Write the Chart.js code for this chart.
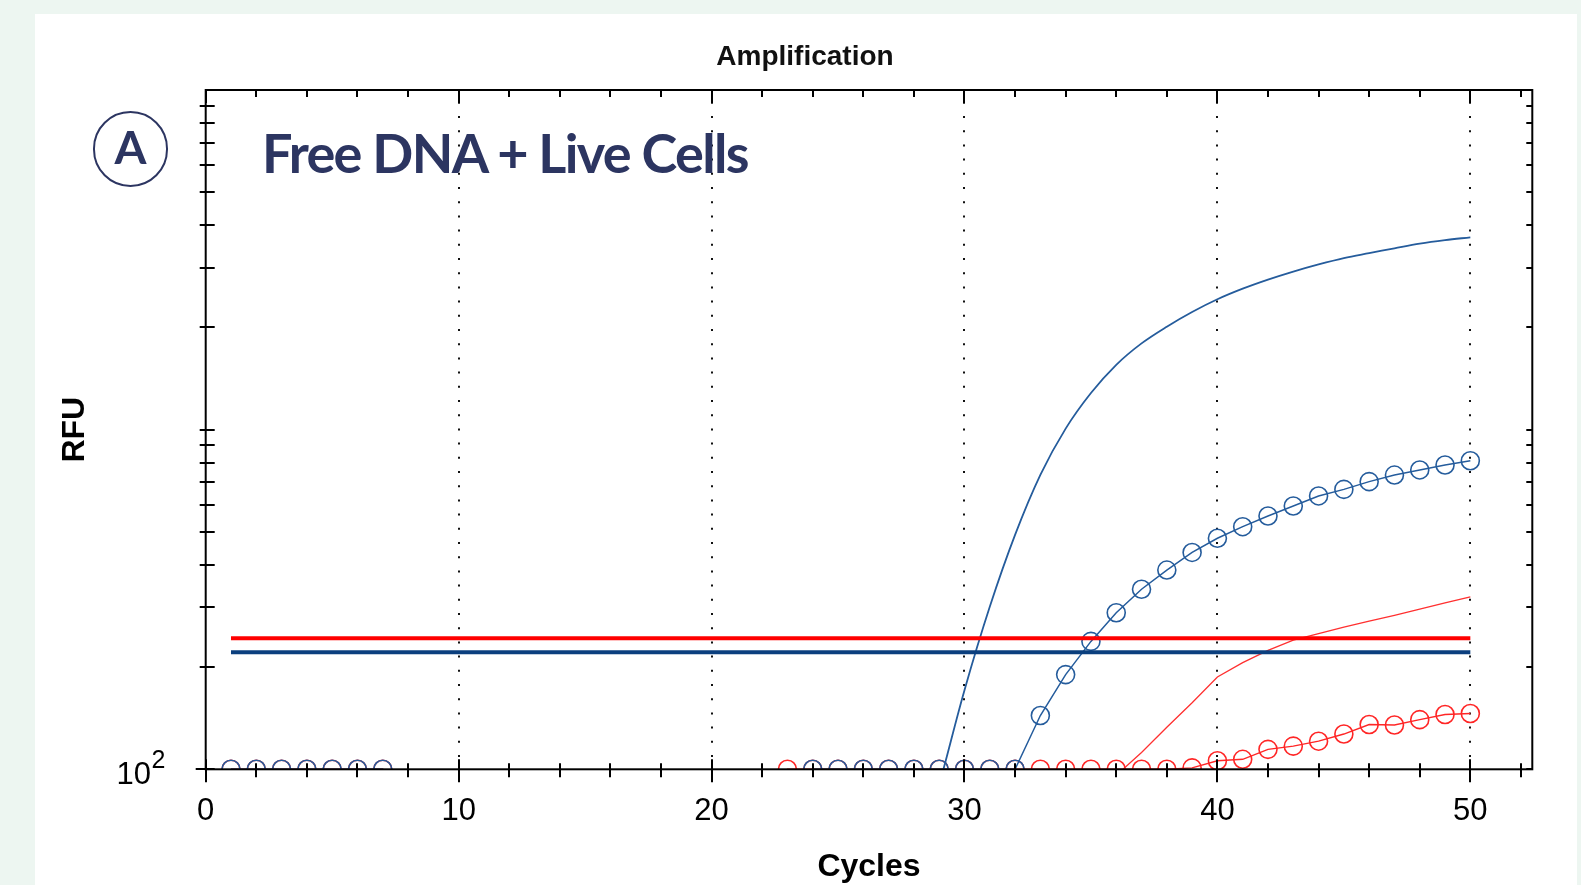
<!DOCTYPE html>
<html>
<head>
<meta charset="utf-8">
<title>Amplification</title>
<script src="https://cdn.jsdelivr.net/npm/chart.js@4"></script>
<style>
  html, body { margin: 0; padding: 0; }
  body { width: 1581px; height: 885px; background: #edf6f1; position: relative; overflow: hidden; }
  #panel { position: absolute; left: 35px; top: 14px; width: 1542px; height: 900px; background: #fff; }
  #myChart { position: absolute; left: 0; top: 0; }
  .txt { position: absolute; white-space: nowrap; }
  #title { left: 605px; width: 400px; top: 41.5px; text-align: center; font: bold 28px/28px 'Liberation Sans', Arial, sans-serif; color: #111; }
  #badge { left: 92.8px; top: 111px; width: 75.6px; height: 75.6px; box-sizing: border-box; border: 2px solid #2c3561; border-radius: 50%; }
  #badgeLetter { left: 92.8px; width: 75.6px; top: 123.7px; text-align: center; font: bold 46px/46px Lato, sans-serif; color: #2c3561; }
  #label { left: 262px; top: 125.6px; font: bold 54px/54px Lato, sans-serif; letter-spacing: -1.65px; color: #2c3561; }
</style>
</head>
<body>
<div id="panel"></div>
<canvas id="myChart" width="1581" height="885"></canvas>
<div class="txt" id="title">Amplification</div>
<div class="txt" id="badge"></div>
<div class="txt" id="badgeLetter">A</div>
<div class="txt" id="label">Free DNA + Live Cells</div>

<script>
// cycle numbers (x)
const cycles = [
  1, 2, 3, 4, 5, 6, 7, 8, 9, 10,
  11, 12, 13, 14, 15, 16, 17, 18, 19, 20,
  21, 22, 23, 24, 25, 26, 27, 28, 29, 30,
  31, 32, 33, 34, 35, 36, 37, 38, 39, 40,
  41, 42, 43, 44, 45, 46, 47, 48, 49, 50
];

// RFU values (values under 100 sit below the axis and are hidden)
const blueLine = [
  50, 50, 50, 50, 50, 50, 50, 50, 50, 50,
  50, 50, 50, 50, 50, 50, 50, 50, 50, 50,
  50, 50, 50, 50, 50, 50, 50, 50, 90, 171,
  301, 490, 736, 1007, 1282, 1552, 1795, 2010, 2220, 2420,
  2600, 2765, 2920, 3065, 3200, 3310, 3420, 3530, 3615, 3683
];
const blueCircles = [
  100, 100, 100, 100, 100, 100, 100, 80, 80, 80,
  80, 80, 80, 80, 80, 80, 80, 80, 80, 80,
  80, 80, 80, 100, 100, 100, 100, 100, 100, 100,
  100, 100, 144, 190, 238, 289, 339, 386, 435, 479,
  518, 557, 596, 638, 667, 703, 735, 761, 787, 810
];
const redLine = [
  90, 90, 90, 90, 90, 90, 90, 90, 90, 90,
  90, 90, 90, 90, 90, 90, 90, 90, 90, 90,
  90, 90, 90, 90, 90, 90, 90, 90, 90, 90,
  90, 90, 90, 90, 90, 96, 112, 133, 157, 187,
  206, 224, 240, 251, 262, 273, 284, 296, 309, 322
];
const redCircles = [
  100, 100, 100, 100, 100, 100, 100, 80, 80, 80,
  80, 80, 80, 80, 80, 80, 80, 80, 80, 80,
  80, 80, 100, 100, 100, 100, 100, 100, 100, 100,
  100, 100, 100, 100, 100, 100, 100, 100, 101, 106,
  107, 114.5, 117, 121, 127, 135.5, 135, 140, 145, 146
];

// threshold lines
const thresholdCycles = [1, 50];
const redThreshold = 243;
const blueThreshold = 221;

// axis ticks
const xLabelTicks = [0, 10, 20, 30, 40, 50];
const xTickMarks = [0, 2, 4, 6, 8, 10, 12, 14, 16, 18, 20, 22, 24, 26, 28, 30,
  32, 34, 36, 38, 40, 42, 44, 46, 48, 50, 52];
const yTickMarks = [100, 200, 300, 400, 500, 600, 700, 800, 900,
  1000, 2000, 3000, 4000, 5000, 6000, 7000, 8000, 9000];
const yLabelValue = 100;

const FONT = "'Liberation Sans', Arial, sans-serif";

function toPoints(values) {
  return cycles.map((c, i) => ({ x: c, y: values[i] }));
}

// frame, tick marks on all four sides and the 10^2 label
const frameTicks = {
  id: 'frameTicks',
  afterDraw(chart) {
    const { ctx, chartArea: a, scales: { x, y } } = chart;
    ctx.save();
    ctx.strokeStyle = '#000';
    ctx.lineWidth = 2;
    ctx.strokeRect(a.left, a.top, a.right - a.left, a.bottom - a.top);

    ctx.beginPath();
    xTickMarks.forEach(v => {
      const px = Math.round(x.getPixelForValue(v));
      const major = xLabelTicks.includes(v);
      ctx.moveTo(px, a.bottom - (major ? 10 : 6));
      ctx.lineTo(px, a.bottom + (major ? 13 : 8));
      ctx.moveTo(px, a.top);
      ctx.lineTo(px, a.top + (major ? 13 : 7));
    });
    yTickMarks.forEach(v => {
      const py = Math.round(y.getPixelForValue(v));
      ctx.moveTo(a.left - (v === yLabelValue ? 10 : 6), py);
      ctx.lineTo(a.left + 9, py);
      ctx.moveTo(a.right - 6, py);
      ctx.lineTo(a.right, py);
    });
    ctx.stroke();

    // 10^2
    const py = y.getPixelForValue(yLabelValue);
    ctx.fillStyle = '#000';
    ctx.textBaseline = 'alphabetic';
    ctx.font = '31px ' + FONT;
    ctx.textAlign = 'right';
    ctx.fillText('10', a.left - 54.7, py + 15);
    ctx.font = '25px ' + FONT;
    ctx.textAlign = 'left';
    ctx.fillText(String(Math.log10(yLabelValue)), a.left - 54.2, py - 1);
    ctx.restore();
  }
};

const config = {
  type: 'line',
  data: {
    datasets: [
      {
        label: 'Threshold red',
        data: thresholdCycles.map(c => ({ x: c, y: redThreshold })),
        borderColor: '#ff0000',
        borderWidth: 4,
        pointRadius: 0
      },
      {
        label: 'Threshold blue',
        data: thresholdCycles.map(c => ({ x: c, y: blueThreshold })),
        borderColor: '#0b3f7e',
        borderWidth: 4,
        pointRadius: 0
      },
      {
        label: 'Blue circles',
        data: toPoints(blueCircles),
        borderColor: '#255c9c',
        borderWidth: 1.5,
        pointStyle: 'circle',
        pointRadius: 9,
        pointBorderWidth: 1.6,
        pointBorderColor: '#255c9c',
        pointBackgroundColor: 'rgba(0,0,0,0)'
      },
      {
        label: 'Blue line',
        data: toPoints(blueLine),
        borderColor: '#255c9c',
        borderWidth: 1.8,
        pointRadius: 0,
        tension: 0.35
      },
      {
        label: 'Red circles',
        data: toPoints(redCircles),
        borderColor: '#ff2626',
        borderWidth: 1.4,
        pointStyle: 'circle',
        pointRadius: 9,
        pointBorderWidth: 1.6,
        pointBorderColor: '#ff2626',
        pointBackgroundColor: 'rgba(0,0,0,0)'
      },
      {
        label: 'Red line',
        data: toPoints(redLine),
        borderColor: '#ff3030',
        borderWidth: 1.3,
        pointRadius: 0
      }
    ]
  },
  options: {
    responsive: false,
    animation: false,
    devicePixelRatio: 1,
    layout: { padding: { top: 90, right: 48.7, left: 0, bottom: 0 } },
    plugins: {
      legend: { display: false },
      tooltip: { enabled: false },
      title: { display: false }
    },
    scales: {
      x: {
        type: 'linear',
        min: 0,
        max: 52.45,
        afterFit: (scale) => { scale.height = 115.7; },
        afterBuildTicks: (scale) => { scale.ticks = xLabelTicks.map(v => ({ value: v })); },
        ticks: {
          autoSkip: false,
          maxRotation: 0,
          padding: 23.1,
          color: '#000',
          font: { family: FONT, size: 31, lineHeight: 1.2 }
        },
        grid: {
          drawTicks: false,
          lineWidth: 2,
          color: (c) => (c.tick && c.tick.value === 0) ? 'rgba(0,0,0,0)' : '#111'
        },
        border: { display: false, dash: [2, 12.2], dashOffset: 2.4 },
        title: {
          display: true,
          text: 'Cycles',
          color: '#000',
          font: { family: FONT, size: 32, weight: 'bold', lineHeight: 1.1 },
          padding: { top: 0, bottom: 0.5 }
        }
      },
      y: {
        type: 'logarithmic',
        min: 100,
        max: 10000,
        afterFit: (scale) => { scale.width = 205.7; },
        ticks: { display: false },
        grid: { display: false },
        border: { display: false },
        title: {
          display: true,
          text: 'RFU',
          color: '#000',
          font: { family: FONT, size: 32, weight: 'bold', lineHeight: 1.2 },
          padding: { top: 56.4, bottom: 0 }
        }
      }
    }
  },
  plugins: [frameTicks]
};

const ctx = document.querySelector('#myChart').getContext('2d');
new Chart(ctx, config);
</script>
</body>
</html>
